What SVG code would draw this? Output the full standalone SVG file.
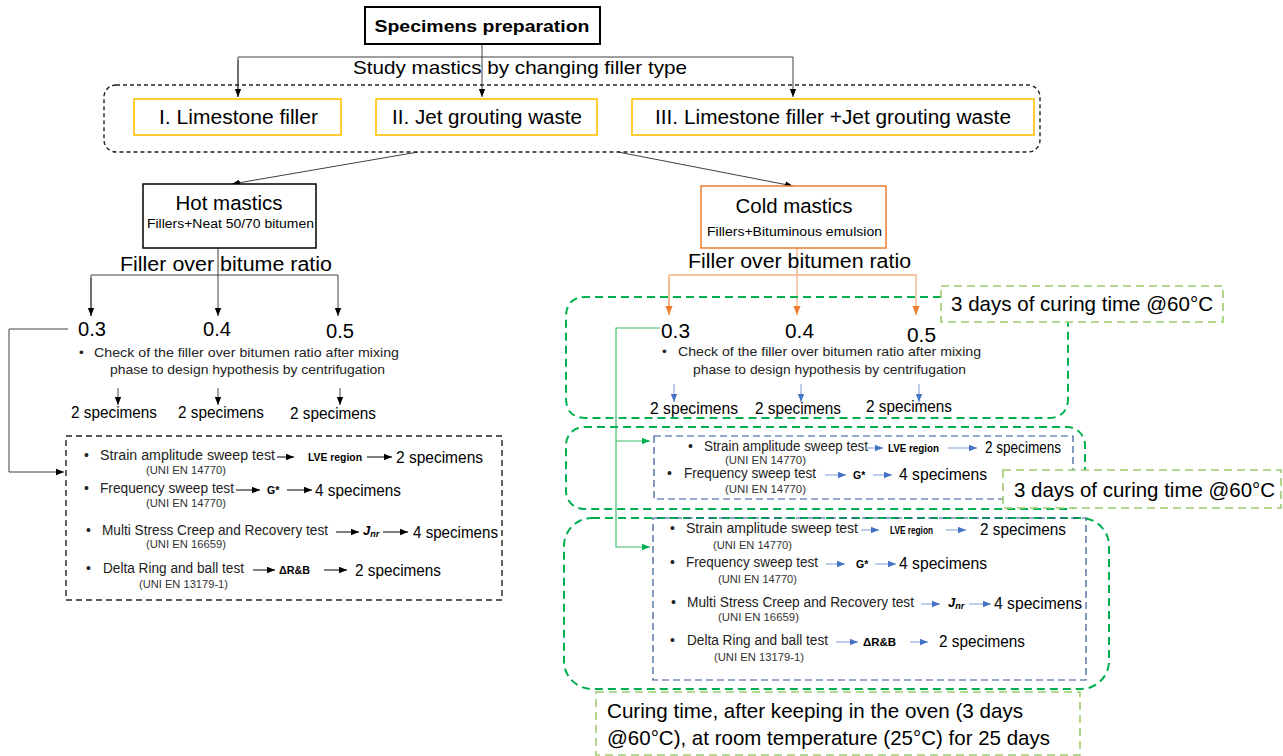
<svg xmlns="http://www.w3.org/2000/svg" width="1283" height="756" viewBox="0 0 1283 756">
<style>
text{font-family:"Liberation Sans",Arial,sans-serif;fill:#000}
.t1{font-size:18.5px}
.t2{font-size:20px}
.sm{font-size:12px}
.bl{font-size:13.5px;fill:#222}
.tst{font-size:14px;fill:#222}
.uni{font-size:11px;fill:#333}
.bd{font-size:10.5px;font-weight:bold}
.sp{font-size:16px}
.lab{font-size:21px}
.gl{fill:none;stroke:#404040;stroke-width:1}
.ol{fill:none;stroke:#F4B183;stroke-width:1.3}
.bu{fill:none;stroke:#8FAADC;stroke-width:1.2}
.gr{fill:none;stroke:#3DBE6A;stroke-width:1.2}
.ka{fill:none;stroke:#000;stroke-width:1}
.gold{fill:#fff;stroke:#FFC000;stroke-width:1.6}
.gdash{fill:none;stroke:#00B050;stroke-width:2;stroke-dasharray:8 5}
.ldash{fill:#fff;stroke:#9DCB6E;stroke-width:1.6;stroke-dasharray:8 5}
.bdash{fill:none;stroke:#2F5597;stroke-width:1.2;stroke-dasharray:7 4}
</style>
<defs>
<marker id="ak" viewBox="0 0 10 10" refX="10" refY="5" markerWidth="8" markerHeight="8" markerUnits="userSpaceOnUse" orient="auto"><path d="M0,1 L10,5 L0,9 z" fill="#000"/></marker>
<marker id="ao" viewBox="0 0 10 10" refX="10" refY="5" markerWidth="9" markerHeight="9" markerUnits="userSpaceOnUse" orient="auto"><path d="M0,1 L10,5 L0,9 z" fill="#ED7D31"/></marker>
<marker id="ab" viewBox="0 0 10 10" refX="10" refY="5" markerWidth="8" markerHeight="8" markerUnits="userSpaceOnUse" orient="auto"><path d="M0,1 L10,5 L0,9 z" fill="#4472C4"/></marker>
<marker id="ag" viewBox="0 0 10 10" refX="10" refY="5" markerWidth="8" markerHeight="8" markerUnits="userSpaceOnUse" orient="auto"><path d="M0,1 L10,5 L0,9 z" fill="#00B050"/></marker>
</defs>
<rect width="1283" height="756" fill="#fff"/>

<g id="connectors">
<path class="gl" d="M482,44 V97" marker-end="url(#ak)"/>
<path class="gl" d="M238,97 V57 H793 V97" marker-end="url(#ak)"/>
<path class="gl" d="M238,60 V97" marker-end="url(#ak)"/>
<path class="gl" d="M418,152 L232,184" marker-end="url(#ak)"/>
<path class="gl" d="M618,152 L793,186" marker-end="url(#ak)"/>
<path class="gl" d="M218,248 V316" marker-end="url(#ak)"/>
<path class="gl" d="M91,316 V275 H338 V316" marker-end="url(#ak)"/>
<path class="gl" d="M91,278 V316" marker-end="url(#ak)"/>
<path class="gl" d="M118,388 V405" marker-end="url(#ak)"/>
<path class="gl" d="M218,388 V405" marker-end="url(#ak)"/>
<path class="gl" d="M340,388 V405" marker-end="url(#ak)"/>
<path class="gl" d="M68,329 H9 V472 H64" marker-end="url(#ak)"/>
<path class="ol" d="M797,248 V315" marker-end="url(#ao)"/>
<path class="ol" d="M669,315 V275 H916 V315" marker-end="url(#ao)"/>
<path class="ol" d="M669,278 V315" marker-end="url(#ao)"/>
<path class="bu" d="M674,384 V402" marker-end="url(#ab)"/>
<path class="bu" d="M801,384 V402" marker-end="url(#ab)"/>
<path class="bu" d="M919,384 V402" marker-end="url(#ab)"/>
<path class="gr" d="M660,328 H616 V547 H650" marker-end="url(#ag)"/>
<path class="gr" d="M616,441 H650" marker-end="url(#ag)"/>
</g>

<g id="specimens-preparation">
<rect x="365" y="7" width="235" height="37" fill="#fff" stroke="#000" stroke-width="2"/>
<text x="482" y="32" text-anchor="middle" font-size="17" font-weight="bold" textLength="215" lengthAdjust="spacingAndGlyphs">Specimens preparation</text>
</g>

<g id="study-label">
<text class="t1" x="353" y="74" textLength="334" lengthAdjust="spacingAndGlyphs">Study mastics by changing filler type</text>
</g>

<g id="filler-types">
<rect x="104" y="85" width="936" height="67" rx="12" fill="none" stroke="#222" stroke-width="1.4" stroke-dasharray="4 3"/>
<g id="filler-1"><rect class="gold" x="134" y="99" width="207" height="36"/>
<text class="t2" x="159" y="124" textLength="159" lengthAdjust="spacingAndGlyphs">I. Limestone filler</text></g>
<g id="filler-2"><rect class="gold" x="376" y="99" width="221" height="36"/>
<text class="t2" x="392" y="124" textLength="190" lengthAdjust="spacingAndGlyphs">II. Jet grouting waste</text></g>
<g id="filler-3"><rect class="gold" x="632" y="99" width="402" height="36"/>
<text class="t2" x="655" y="124" textLength="356" lengthAdjust="spacingAndGlyphs">III. Limestone filler +Jet grouting waste</text></g>
</g>

<g id="hot-mastics">
<rect x="143" y="184" width="173" height="64" fill="#fff" stroke="#000" stroke-width="1.5"/>
<text x="229" y="210" text-anchor="middle" font-size="20.5" textLength="107" lengthAdjust="spacingAndGlyphs">Hot mastics</text>
<text class="sm" x="147" y="228" textLength="167" lengthAdjust="spacingAndGlyphs">Fillers+Neat 50/70 bitumen</text>
</g>

<g id="hot-ratio">
<text x="120" y="271" font-size="20" textLength="212" lengthAdjust="spacingAndGlyphs">Filler over bitume ratio</text>
<text x="78" y="336" font-size="19.5" textLength="28" lengthAdjust="spacingAndGlyphs">0.3</text>
<text x="203" y="336" font-size="19.5" textLength="28" lengthAdjust="spacingAndGlyphs">0.4</text>
<text x="326" y="338" font-size="19.5" textLength="28" lengthAdjust="spacingAndGlyphs">0.5</text>
<text class="bl" x="79" y="357">•</text>
<text class="bl" x="94" y="357" textLength="305" lengthAdjust="spacingAndGlyphs">Check of the filler over bitumen ratio after mixing</text>
<text class="bl" x="110" y="374" textLength="275" lengthAdjust="spacingAndGlyphs">phase to design hypothesis by centrifugation</text>
<text class="sp" x="71" y="418" textLength="86" lengthAdjust="spacingAndGlyphs">2 specimens</text>
<text class="sp" x="178" y="418" textLength="86" lengthAdjust="spacingAndGlyphs">2 specimens</text>
<text class="sp" x="290" y="419" textLength="86" lengthAdjust="spacingAndGlyphs">2 specimens</text>
</g>

<g id="hot-tests">
<rect x="66" y="436" width="436" height="164" fill="none" stroke="#222" stroke-width="1.4" stroke-dasharray="6 4"/>
<text class="tst" x="84" y="460">•</text>
<text class="tst" x="100" y="460" textLength="175" lengthAdjust="spacingAndGlyphs">Strain amplitude sweep test</text>
<path class="ka" d="M277,457 H294" marker-end="url(#ak)"/>
<text class="bd" x="308" y="461" textLength="54" lengthAdjust="spacingAndGlyphs">LVE region</text>
<path class="ka" d="M367,457 H392" marker-end="url(#ak)"/>
<text class="sp" x="396" y="463" font-size="17" textLength="87" lengthAdjust="spacingAndGlyphs">2 specimens</text>
<text class="uni" x="146" y="474" textLength="80" lengthAdjust="spacingAndGlyphs">(UNI EN 14770)</text>

<text class="tst" x="84" y="493">•</text>
<text class="tst" x="100" y="493" textLength="134" lengthAdjust="spacingAndGlyphs">Frequency sweep test</text>
<path class="ka" d="M236,490 H260" marker-end="url(#ak)"/>
<text class="bd" x="267" y="494">G*</text>
<path class="ka" d="M287,490 H312" marker-end="url(#ak)"/>
<text class="sp" x="315" y="496" font-size="17" textLength="86" lengthAdjust="spacingAndGlyphs">4 specimens</text>
<text class="uni" x="146" y="507" textLength="80" lengthAdjust="spacingAndGlyphs">(UNI EN 14770)</text>

<text class="tst" x="86" y="535">•</text>
<text class="tst" x="102" y="535" textLength="226" lengthAdjust="spacingAndGlyphs">Multi Stress Creep and Recovery test</text>
<path class="ka" d="M336,532 H359" marker-end="url(#ak)"/>
<text x="363" y="535" font-family="Liberation Serif" font-style="italic" font-weight="bold" font-size="13">J<tspan font-size="9" dy="2">nr</tspan></text>
<path class="ka" d="M383,532 H408" marker-end="url(#ak)"/>
<text class="sp" x="413" y="538" font-size="17" textLength="85" lengthAdjust="spacingAndGlyphs">4 specimens</text>
<text class="uni" x="146" y="548" textLength="80" lengthAdjust="spacingAndGlyphs">(UNI EN 16659)</text>

<text class="tst" x="86" y="573">•</text>
<text class="tst" x="103" y="573" textLength="141" lengthAdjust="spacingAndGlyphs">Delta Ring and ball test</text>
<path class="ka" d="M253,570 H275" marker-end="url(#ak)"/>
<text class="bd" x="279" y="574" textLength="31" lengthAdjust="spacingAndGlyphs">ΔR&amp;B</text>
<path class="ka" d="M324,570 H347" marker-end="url(#ak)"/>
<text class="sp" x="355" y="576" font-size="17" textLength="86" lengthAdjust="spacingAndGlyphs">2 specimens</text>
<text class="uni" x="139" y="588" textLength="89" lengthAdjust="spacingAndGlyphs">(UNI EN 13179-1)</text>
</g>

<g id="cold-mastics">
<rect x="701" y="186" width="185" height="62" fill="#fff" stroke="#ED7D31" stroke-width="1.5"/>
<text x="794" y="213" text-anchor="middle" font-size="20.5" textLength="117" lengthAdjust="spacingAndGlyphs">Cold mastics</text>
<text class="sm" x="707" y="236" textLength="175" lengthAdjust="spacingAndGlyphs">Fillers+Bituminous emulsion</text>
</g>

<g id="cold-ratio">
<text x="688" y="268" font-size="20" textLength="223" lengthAdjust="spacingAndGlyphs">Filler over bitumen ratio</text>
</g>

<g id="cold-curing-1">
<path class="gdash" d="M941,297 H586 Q566,297 566,317 V398 Q566,418 586,418 H1048 Q1068,418 1068,398 V322"/>
<text x="661" y="338" font-size="19.5" textLength="29" lengthAdjust="spacingAndGlyphs">0.3</text>
<text x="785" y="338" font-size="19.5" textLength="29" lengthAdjust="spacingAndGlyphs">0.4</text>
<text x="907" y="342" font-size="19.5" textLength="29" lengthAdjust="spacingAndGlyphs">0.5</text>
<text class="bl" x="662" y="356">•</text>
<text class="bl" x="678" y="356" textLength="303" lengthAdjust="spacingAndGlyphs">Check of the filler over bitumen ratio after mixing</text>
<text class="bl" x="693" y="374" textLength="273" lengthAdjust="spacingAndGlyphs">phase to design hypothesis by centrifugation</text>
<text class="sp" x="650" y="414" textLength="88" lengthAdjust="spacingAndGlyphs">2 specimens</text>
<text class="sp" x="755" y="414" textLength="86" lengthAdjust="spacingAndGlyphs">2 specimens</text>
<text class="sp" x="866" y="412" textLength="86" lengthAdjust="spacingAndGlyphs">2 specimens</text>
</g>

<g id="label-curing-1">
<rect class="ldash" x="941" y="286" width="282" height="36"/>
<text class="lab" x="951" y="311" textLength="262" lengthAdjust="spacingAndGlyphs">3 days of curing time @60°C</text>
</g>

<g id="cold-curing-2">
<rect class="gdash" x="566" y="427" width="519" height="82" rx="18"/>
<rect class="bdash" x="654" y="436" width="419" height="63"/>
<text class="tst" x="688" y="451">•</text>
<text class="tst" x="704" y="451" textLength="164" lengthAdjust="spacingAndGlyphs">Strain amplitude sweep test</text>
<path class="bu" d="M865,448 H883" marker-end="url(#ab)"/>
<text class="bd" x="888" y="452" textLength="51" lengthAdjust="spacingAndGlyphs">LVE region</text>
<path class="bu" d="M948,448 H977" marker-end="url(#ab)"/>
<text class="sp" x="985" y="453" textLength="76" lengthAdjust="spacingAndGlyphs">2 specimens</text>
<text class="uni" x="725" y="464" textLength="81" lengthAdjust="spacingAndGlyphs">(UNI EN 14770)</text>
<text class="tst" x="667" y="478">•</text>
<text class="tst" x="684" y="478" textLength="132" lengthAdjust="spacingAndGlyphs">Frequency sweep test</text>
<path class="bu" d="M825,475 H846" marker-end="url(#ab)"/>
<text class="bd" x="853" y="479">G*</text>
<path class="bu" d="M873,475 H892" marker-end="url(#ab)"/>
<text class="sp" x="899" y="480" textLength="88" lengthAdjust="spacingAndGlyphs">4 specimens</text>
<text class="uni" x="725" y="493" textLength="81" lengthAdjust="spacingAndGlyphs">(UNI EN 14770)</text>
</g>

<g id="label-curing-2">
<rect class="ldash" x="1003" y="470" width="278" height="38"/>
<text class="lab" x="1014" y="497" textLength="261" lengthAdjust="spacingAndGlyphs">3 days of curing time @60°C</text>
</g>

<g id="cold-curing-3">
<rect class="gdash" x="564" y="518" width="545" height="171" rx="28"/>
<rect class="bdash" x="653" y="518" width="433" height="162"/>
<text class="tst" x="670" y="533">•</text>
<text class="tst" x="686" y="533" textLength="172" lengthAdjust="spacingAndGlyphs">Strain amplitude sweep test</text>
<path class="bu" d="M861,530 H879" marker-end="url(#ab)"/>
<text class="bd" x="890" y="534" textLength="43" lengthAdjust="spacingAndGlyphs">LVE region</text>
<path class="bu" d="M946,530 H966" marker-end="url(#ab)"/>
<text class="sp" x="980" y="535" textLength="86" lengthAdjust="spacingAndGlyphs">2 specimens</text>
<text class="uni" x="713" y="549" textLength="79" lengthAdjust="spacingAndGlyphs">(UNI EN 14770)</text>

<text class="tst" x="670" y="567">•</text>
<text class="tst" x="686" y="567" textLength="132" lengthAdjust="spacingAndGlyphs">Frequency sweep test</text>
<path class="bu" d="M826,564 H845" marker-end="url(#ab)"/>
<text class="bd" x="856" y="568">G*</text>
<path class="bu" d="M875,564 H896" marker-end="url(#ab)"/>
<text class="sp" x="899" y="569" textLength="88" lengthAdjust="spacingAndGlyphs">4 specimens</text>
<text class="uni" x="718" y="583" textLength="79" lengthAdjust="spacingAndGlyphs">(UNI EN 14770)</text>

<text class="tst" x="671" y="607">•</text>
<text class="tst" x="687" y="607" textLength="227" lengthAdjust="spacingAndGlyphs">Multi Stress Creep and Recovery test</text>
<path class="bu" d="M921,604 H940" marker-end="url(#ab)"/>
<text x="948" y="607" font-family="Liberation Serif" font-style="italic" font-weight="bold" font-size="13">J<tspan font-size="9" dy="2">nr</tspan></text>
<path class="bu" d="M969,604 H991" marker-end="url(#ab)"/>
<text class="sp" x="994" y="609" textLength="88" lengthAdjust="spacingAndGlyphs">4 specimens</text>
<text class="uni" x="718" y="621" textLength="81" lengthAdjust="spacingAndGlyphs">(UNI EN 16659)</text>

<text class="tst" x="670" y="645">•</text>
<text class="tst" x="687" y="645" textLength="141" lengthAdjust="spacingAndGlyphs">Delta Ring and ball test</text>
<path class="bu" d="M836,642 H858" marker-end="url(#ab)"/>
<text class="bd" x="863" y="646" textLength="33" lengthAdjust="spacingAndGlyphs">ΔR&amp;B</text>
<path class="bu" d="M910,642 H928" marker-end="url(#ab)"/>
<text class="sp" x="939" y="647" textLength="86" lengthAdjust="spacingAndGlyphs">2 specimens</text>
<text class="uni" x="714" y="661" textLength="90" lengthAdjust="spacingAndGlyphs">(UNI EN 13179-1)</text>
</g>

<g id="label-curing-room">
<rect class="ldash" x="596" y="692" width="484" height="63"/>
<text class="lab" x="607" y="718" textLength="416" lengthAdjust="spacingAndGlyphs">Curing time, after keeping in the oven (3 days</text>
<text class="lab" x="607" y="745" textLength="443" lengthAdjust="spacingAndGlyphs">@60°C), at room temperature (25°C) for 25 days</text>
</g>
</svg>
